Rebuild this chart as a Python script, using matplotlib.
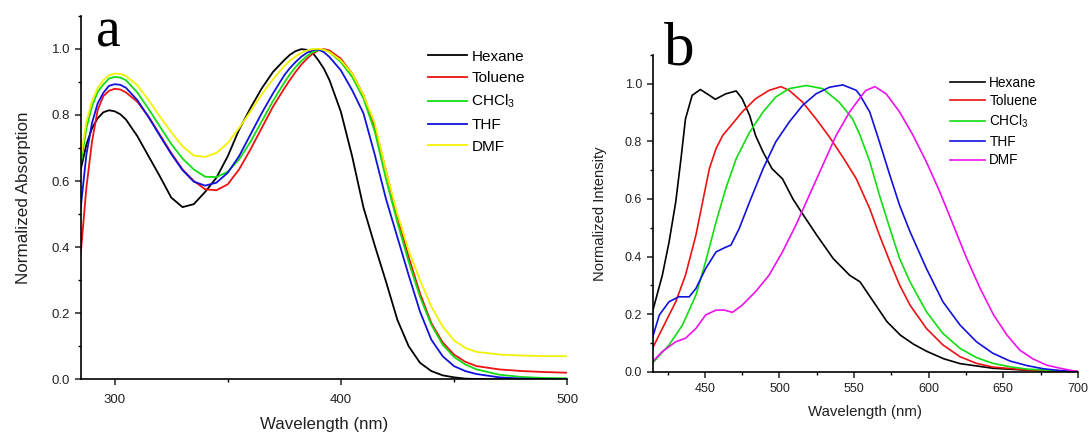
"""
Absorption (a) and emission (b) spectra in five solvents, normalized.
"""
import matplotlib
matplotlib.use('Agg')
from matplotlib import pyplot as plt
from matplotlib.ticker import MultipleLocator

plt.rcParams['font.family'] = ['Liberation Sans', 'DejaVu Sans']
plt.rcParams['mathtext.default'] = 'regular'

solvents = ['Hexane', 'Toluene', 'CHCl$_3$', 'THF', 'DMF']
abs_colors = ['black', '#ee1111', '#11dd11', '#1111dd', '#f2f200']
em_colors = ['black', '#ee1111', '#11dd11', '#1111dd', '#ee11ee']

# ---- panel a: absorption, shared wavelength grid ----
abs_wl = [285, 287.5, 290, 292.5, 295, 297.5, 300, 302.5, 305, 310, 315, 320, 325,
          330, 335, 340, 345, 350, 355, 360, 365, 370, 375, 377.5, 380, 382.5, 385,
          387.5, 390, 392.5, 395, 400, 405, 410, 415, 420, 425, 430, 435, 440, 445,
          450, 455, 460, 470, 480, 490, 500]

abs_hexane = [0.635, 0.71, 0.76, 0.79, 0.808, 0.814, 0.811, 0.802, 0.786, 0.736,
              0.675, 0.614, 0.55, 0.521, 0.53, 0.567, 0.61, 0.675, 0.755, 0.82,
              0.88, 0.93, 0.966, 0.982, 0.993, 0.999, 0.997, 0.988, 0.966, 0.94,
              0.905, 0.81, 0.675, 0.52, 0.405, 0.295, 0.18, 0.1, 0.05, 0.025,
              0.012, 0.006, 0.002, 0.001, 0.0, 0.0, 0.0, 0.0]
abs_toluene = [0.38, 0.58, 0.72, 0.815, 0.857, 0.873, 0.879, 0.877, 0.868, 0.84,
               0.795, 0.74, 0.685, 0.635, 0.6, 0.575, 0.572, 0.59, 0.635, 0.695,
               0.76, 0.825, 0.88, 0.906, 0.93, 0.952, 0.97, 0.985, 0.995, 0.999,
               0.995, 0.97, 0.925, 0.86, 0.765, 0.63, 0.49, 0.37, 0.26, 0.17,
               0.112, 0.075, 0.053, 0.04, 0.03, 0.025, 0.022, 0.02]
abs_chcl3 = [0.65, 0.76, 0.826, 0.87, 0.892, 0.91, 0.915, 0.913, 0.905, 0.868,
             0.818, 0.765, 0.712, 0.668, 0.635, 0.613, 0.612, 0.628, 0.665, 0.718,
             0.78, 0.842, 0.898, 0.923, 0.945, 0.963, 0.978, 0.99, 0.996, 0.997,
             0.99, 0.96, 0.915, 0.85, 0.75, 0.605, 0.475, 0.355, 0.25, 0.165,
             0.105, 0.068, 0.045, 0.03, 0.014, 0.007, 0.004, 0.003]
abs_thf = [0.52, 0.68, 0.776, 0.835, 0.867, 0.888, 0.893, 0.891, 0.882, 0.845,
           0.793, 0.737, 0.682, 0.633, 0.598, 0.586, 0.595, 0.625, 0.675, 0.74,
           0.805, 0.865, 0.92, 0.942, 0.96, 0.976, 0.988, 0.996, 0.998, 0.99,
           0.975, 0.935, 0.875, 0.805, 0.68, 0.545, 0.43, 0.315, 0.205, 0.12,
           0.07, 0.04, 0.025, 0.016, 0.006, 0.002, 0.001, 0.0]
abs_dmf = [0.67, 0.78, 0.842, 0.882, 0.905, 0.92, 0.925, 0.924, 0.918, 0.89,
           0.845, 0.795, 0.748, 0.705, 0.677, 0.673, 0.685, 0.715, 0.76, 0.81,
           0.862, 0.908, 0.948, 0.964, 0.977, 0.988, 0.995, 0.999, 1.0, 0.997,
           0.99, 0.965, 0.925, 0.86, 0.775, 0.63, 0.5, 0.39, 0.3, 0.22,
           0.16, 0.118, 0.095, 0.083, 0.075, 0.072, 0.07, 0.07]

# ---- panel b: emission, each series read on its own wavelengths ----
em_hexane_wl = [415, 421.5, 426, 430.5, 434, 437, 441.5, 447, 453, 457, 464, 471,
                475, 480, 484, 489, 495, 502, 509, 516, 525, 536, 547, 554, 563,
                572, 581, 590, 599, 610, 621, 643, 666, 688, 700]
em_hexane = [0.21, 0.335, 0.45, 0.59, 0.74, 0.878, 0.96, 0.98, 0.96, 0.946, 0.965,
             0.975, 0.948, 0.89, 0.82, 0.763, 0.705, 0.67, 0.6, 0.544, 0.474, 0.393,
             0.335, 0.312, 0.243, 0.174, 0.127, 0.095, 0.07, 0.045, 0.028, 0.012,
             0.005, 0.002, 0.0]
em_toluene_wl = [415, 421.5, 430.5, 437, 444, 448.5, 453, 457.5, 462, 468.5, 475,
                 484, 493, 501, 506.5, 515.5, 524.5, 533.5, 542.5, 551.5, 560.5,
                 567, 574, 580.5, 587.5, 598.5, 609.5, 621, 632, 643, 666, 688, 700]
em_toluene = [0.082, 0.15, 0.243, 0.335, 0.474, 0.59, 0.705, 0.775, 0.821, 0.861,
              0.902, 0.948, 0.977, 0.99, 0.977, 0.936, 0.878, 0.815, 0.745, 0.67,
              0.566, 0.474, 0.382, 0.301, 0.231, 0.15, 0.093, 0.052, 0.029, 0.016,
              0.006, 0.002, 0.0]
em_chcl3_wl = [415, 426, 435, 444, 450.5, 457.5, 464, 471, 480, 489, 497.5, 506.5,
               518, 529, 540, 549, 554, 560.5, 567, 574, 580.5, 587.5, 598.5, 609.5,
               621, 632, 643, 654.5, 666, 688, 700]
em_chcl3 = [0.03, 0.093, 0.162, 0.266, 0.382, 0.52, 0.636, 0.74, 0.832, 0.902,
            0.954, 0.983, 0.994, 0.983, 0.936, 0.878, 0.821, 0.73, 0.613, 0.497,
            0.393, 0.312, 0.208, 0.133, 0.081, 0.049, 0.029, 0.017, 0.009, 0.003, 0.0]
em_thf_wl = [415, 419.5, 426, 432.5, 439.5, 444, 450.5, 457.5, 463, 467.5, 473, 480,
             489, 497.5, 506.5, 515.5, 524.5, 533.5, 542.5, 551.5, 554, 560.5, 567,
             574, 580.5, 587.5, 598.5, 609.5, 621, 632, 643, 654.5, 666, 677, 688, 700]
em_thf = [0.12, 0.197, 0.243, 0.26, 0.26, 0.289, 0.358, 0.416, 0.43, 0.44, 0.497,
          0.59, 0.705, 0.798, 0.867, 0.925, 0.965, 0.988, 0.996, 0.977, 0.96, 0.902,
          0.798, 0.682, 0.578, 0.486, 0.358, 0.243, 0.162, 0.104, 0.064, 0.037,
          0.021, 0.01, 0.004, 0.0]
em_dmf_wl = [415, 421.5, 430.5, 437, 444, 450.5, 457.5, 463, 468.5, 475, 484, 493,
             502, 511, 520, 529, 538, 547, 556, 558, 564, 571.5, 580.5, 589.5, 598.5,
             607.5, 616.5, 625.5, 634.5, 643.5, 652.5, 661, 670, 679, 688, 700]
em_dmf = [0.035, 0.07, 0.104, 0.116, 0.15, 0.197, 0.214, 0.214, 0.206, 0.231, 0.278,
          0.335, 0.416, 0.509, 0.613, 0.717, 0.821, 0.902, 0.965, 0.977, 0.99, 0.965,
          0.902, 0.821, 0.728, 0.624, 0.509, 0.393, 0.289, 0.197, 0.127, 0.075,
          0.044, 0.023, 0.012, 0.0]


def style_axes(ax, tick_size, major_x, minor_x, xpad):
    for side in ['top', 'right']:
        ax.spines[side].set_visible(False)
    for side in ['left', 'bottom']:
        ax.spines[side].set_linewidth(1.2)
    ax.xaxis.set_major_locator(MultipleLocator(major_x))
    ax.xaxis.set_minor_locator(MultipleLocator(minor_x))
    ax.yaxis.set_major_locator(MultipleLocator(0.2))
    ax.yaxis.set_minor_locator(MultipleLocator(0.1))
    ax.yaxis.set_major_formatter(plt.FormatStrFormatter('%.1f'))
    ax.tick_params(which='major', direction='out', length=4, width=1.1,
                   labelsize=tick_size, colors='#222222')
    ax.tick_params(which='minor', direction='out', length=2.5, width=1.0)
    ax.tick_params(axis='x', pad=xpad)


fig = plt.figure(figsize=(10.91, 4.38), dpi=100)

# panel a
ax1 = fig.add_axes([0.074, 0.134, 0.4457, 0.830])
abs_series = [abs_hexane, abs_toluene, abs_chcl3, abs_thf, abs_dmf]
for name, vals, col in zip(solvents, abs_series, abs_colors):
    ax1.plot(abs_wl, vals, color=col, lw=1.3, label=name)
ax1.set_xlim(285, 500)
ax1.set_ylim(0, 1.1)
style_axes(ax1, 9.5, 100, 50, 6.5)
ax1.set_xlabel('Wavelength (nm)', fontsize=12.2, color='#222222', labelpad=8)
ax1.set_ylabel('Normalized Absorption', fontsize=12.3, color='#222222', labelpad=15)
ax1.legend(frameon=False, loc='upper left', bbox_to_anchor=(0.714, 0.907),
           borderpad=0, borderaxespad=0, fontsize=11, handlelength=2.55,
           handletextpad=0.3, labelspacing=0.5)
fig.text(0.088, 0.893, 'a', family='Liberation Serif', fontsize=40)

# panel b
ax2 = fig.add_axes([0.5982, 0.1514, 0.3898, 0.7231])
em_series = [(em_hexane_wl, em_hexane), (em_toluene_wl, em_toluene),
             (em_chcl3_wl, em_chcl3), (em_thf_wl, em_thf), (em_dmf_wl, em_dmf)]
for name, (wl, vals), col in zip(solvents, em_series, em_colors):
    ax2.plot(wl, vals, color=col, lw=1.2, label=name)
ax2.set_xlim(415, 700)
ax2.set_ylim(0, 1.1)
style_axes(ax2, 9, 50, 25, 4)
ax2.set_xlabel('Wavelength (nm)', fontsize=10.8, color='#222222', labelpad=7)
ax2.set_ylabel('Normalized Intensity', fontsize=10.6, color='#222222', labelpad=13)
ax2.legend(frameon=False, loc='upper left', bbox_to_anchor=(0.699, 0.935),
           borderpad=0, borderaxespad=0, fontsize=9.8, handlelength=2.6,
           handletextpad=0.3, labelspacing=0.34)
fig.text(0.609, 0.852, 'b', family='Liberation Serif', fontsize=44)

plt.savefig('out.png', dpi=100)
